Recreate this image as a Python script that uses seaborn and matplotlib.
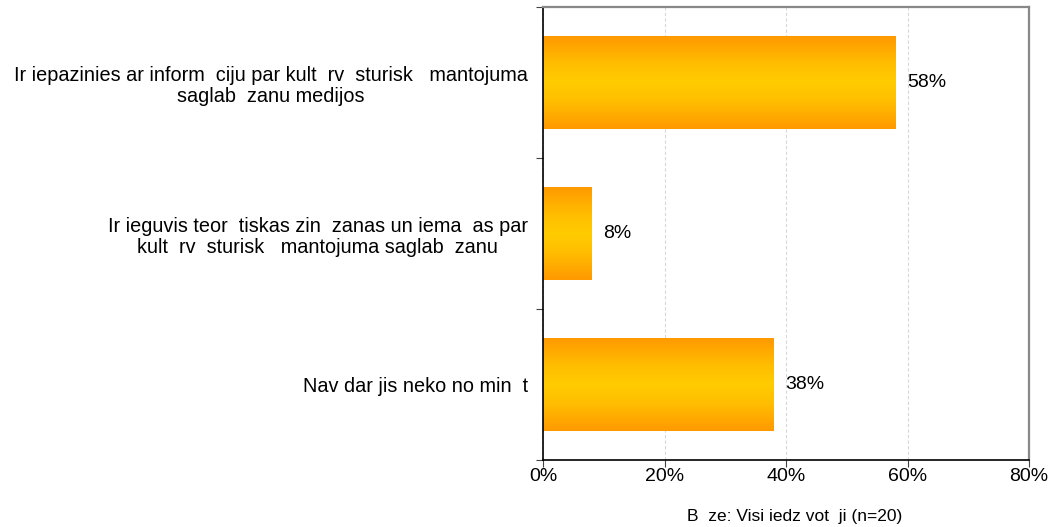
import numpy as np
import pandas as pd
import matplotlib
matplotlib.use("Agg")
import matplotlib.pyplot as plt
from matplotlib.colors import LinearSegmentedColormap
from matplotlib.ticker import FixedLocator
import seaborn as sns

categories = [
    "Ir iepazinies ar inform  ciju par kult  rv  sturisk   mantojuma\nsaglab  zanu medijos",
    "Ir ieguvis teor  tiskas zin  zanas un iema  as par\nkult  rv  sturisk   mantojuma saglab  zanu",
    "Nav dar jis neko no min  t",
]
values = [58, 8, 38]
x_ticks = [0, 20, 40, 60, 80]
note = "B  ze: Visi iedz vot  ji (n=20)"

sns.set_theme(style="white")
plt.rcParams["font.family"] = ["Liberation Sans", "DejaVu Sans"]

df = pd.DataFrame({"category": categories, "value": values})

fig = plt.figure(figsize=(10.52, 5.27), dpi=100)
ax = fig.add_axes([543 / 1052, 67 / 527, 486 / 1052, 453 / 527])

sns.barplot(data=df, x="value", y="category", orient="h", ax=ax,
            width=0.61, color="#FFCC00", saturation=1, linewidth=0)

# orange-yellow-orange vertical gradient inside each bar
cmap = LinearSegmentedColormap.from_list(
    "barfill",
    [(0.0, "#FF9900"), (0.3, "#FFBE00"), (0.5, "#FFCC00"), (0.7, "#FFBE00"), (1.0, "#FF9900")],
)
grad = np.linspace(0, 1, 256).reshape(-1, 1)
for patch in ax.patches:
    x0, y0 = patch.get_x(), patch.get_y()
    w, h = patch.get_width(), patch.get_height()
    patch.set_facecolor("none")
    im = ax.imshow(grad, cmap=cmap, aspect="auto", interpolation="bilinear",
                   extent=(x0, x0 + w, y0 + h, y0), zorder=2)
    im.set_clip_path(patch)

for i, v in enumerate(values):
    ax.text(v + 1.9, i, f"{v}%", va="center", ha="left", fontsize=14, color="#000000")

ax.set_xlim(0, 80)
ax.set_ylim(2.5, -0.5)
ax.set_xticks(x_ticks)
ax.set_xticklabels([f"{t}%" for t in x_ticks], fontsize=14, color="#000000")
ax.set_yticks(range(len(categories)))
ax.set_yticklabels(categories, fontsize=14.3, ha="right", multialignment="center",
                   color="#000000", linespacing=1.15)
ax.yaxis.set_minor_locator(FixedLocator([-0.5, 0.5, 1.5, 2.5]))
ax.tick_params(axis="y", which="major", length=0, pad=11)
ax.tick_params(axis="y", which="minor", length=5, width=0.8, color="#444444", left=True)
ax.tick_params(axis="x", which="major", length=5, width=0.8, color="#444444", bottom=True, pad=1)
ax.set_xlabel("")
ax.set_ylabel("")

ax.xaxis.grid(True, color="#D8D8D8", linestyle=(0, (3, 2)), linewidth=0.8)
ax.set_axisbelow(True)

for side in ["left", "bottom"]:
    ax.spines[side].set_color("#000000")
    ax.spines[side].set_linewidth(1.2)
for side in ["top", "right"]:
    ax.spines[side].set_visible(True)
    ax.spines[side].set_color("#888888")
    ax.spines[side].set_linewidth(1.6)

fig.text(795 / 1052, 11 / 527, note, ha="center", va="center", fontsize=12.5, color="#000000")

fig.savefig("out.png", dpi=100)
